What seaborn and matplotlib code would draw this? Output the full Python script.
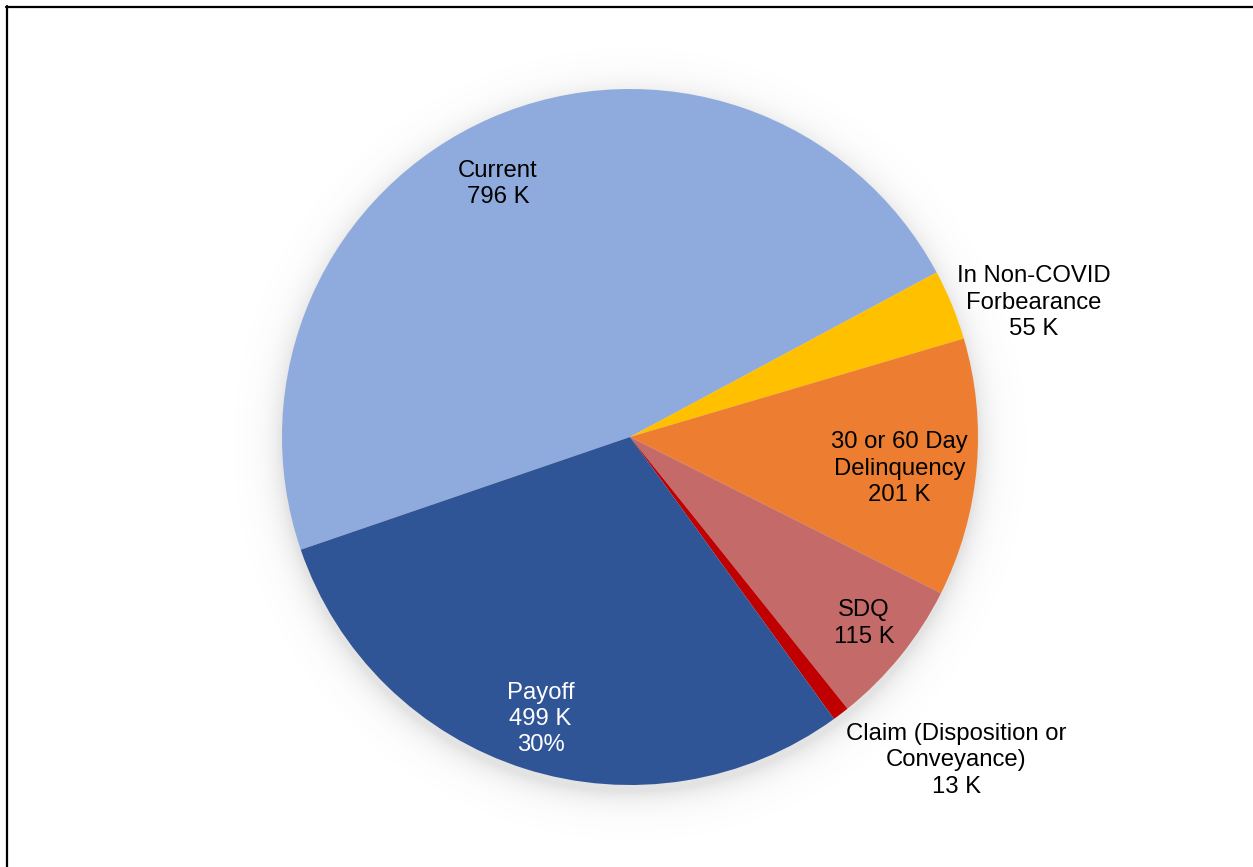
import numpy as np
import matplotlib
matplotlib.use("Agg")
import matplotlib.pyplot as plt
from matplotlib.lines import Line2D
import seaborn as sns

# Loan status counts (thousands)
categories = ["Current", "In Non-COVID\nForbearance", "30 or 60 Day\nDelinquency",
              "SDQ", "Claim (Disposition or\nConveyance)", "Payoff"]
values = [796, 55, 201, 115, 13, 499]
colors = ["#8FAADC", "#FFC000", "#ED7D31", "#C46B6A", "#C00000", "#2F5597"]
text_colors = ["black", "black", "black", "black", "black", "white"]
show_pct = [False, False, False, False, False, True]

# Label placement: radius (pie units) and angular nudge (deg) per slice
label_r = [0.82, 1.223, 0.78, 0.86, 1.32, 0.85]
label_dtheta = [4.0, -3.95, -1.6, 0.4, 8.0, 0.0]

sns.set_theme(style="white")
plt.rcParams["font.family"] = ["Liberation Sans", "DejaVu Sans"]

W, H = 1253, 867
fig = plt.figure(figsize=(W / 100, H / 100), dpi=100)
fig.patch.set_facecolor("white")

cx, cy, R = 630, 437, 348
L = 1.2
ax = fig.add_axes([(cx - L * R) / W, (H - cy - L * R) / H, 2 * L * R / W, 2 * L * R / H])
ax.set_xlim(-L, L)
ax.set_ylim(-L, L)
ax.set_aspect("equal")
ax.axis("off")

# Soft drop shadow around the pie
n = 600
g = np.linspace(-L, L, n)
X, Y = np.meshgrid(g, g)
d = np.hypot(X, Y + 0.02) - 1.0
alpha = np.where(d > -0.05, 0.17 * np.exp(-np.clip(d, 0, None) / 0.037), 0.17)
shadow = np.zeros((n, n, 4))
shadow[..., :3] = 0.35
shadow[..., 3] = alpha
ax.imshow(shadow, extent=(-L, L, -L, L), origin="lower", zorder=0, interpolation="bilinear")

total = sum(values)
start = 198.9
wedges, _ = ax.pie(values, colors=colors, startangle=start, counterclock=False,
                   radius=1.0, center=(0, 0), frame=False,
                   wedgeprops=dict(linewidth=0, antialiased=True))
for w in wedges:
    w.set_zorder(2)
ax.set_xlim(-L, L)
ax.set_ylim(-L, L)

for w, name, v, tc, sp, r, dt in zip(wedges, categories, values, text_colors,
                                     show_pct, label_r, label_dtheta):
    mid = np.deg2rad((w.theta1 + w.theta2) / 2 + dt)
    txt = f"{name}\n{v} K"
    if sp:
        txt += f"\n{round(v / total * 100)}%"
    ax.text(r * np.cos(mid), r * np.sin(mid), txt, ha="center", va="center",
            fontsize=17.2, color=tc, linespacing=1.26, zorder=3)

# Frame lines along the top and left edges
fig.add_artist(Line2D([6 / W, 1.0], [1 - 7 / H, 1 - 7 / H], transform=fig.transFigure,
                      color="black", linewidth=1.6))
fig.add_artist(Line2D([7 / W, 7 / W], [0, 1 - 6 / H], transform=fig.transFigure,
                      color="black", linewidth=1.6))

fig.savefig("out.png", dpi=100, facecolor="white")
